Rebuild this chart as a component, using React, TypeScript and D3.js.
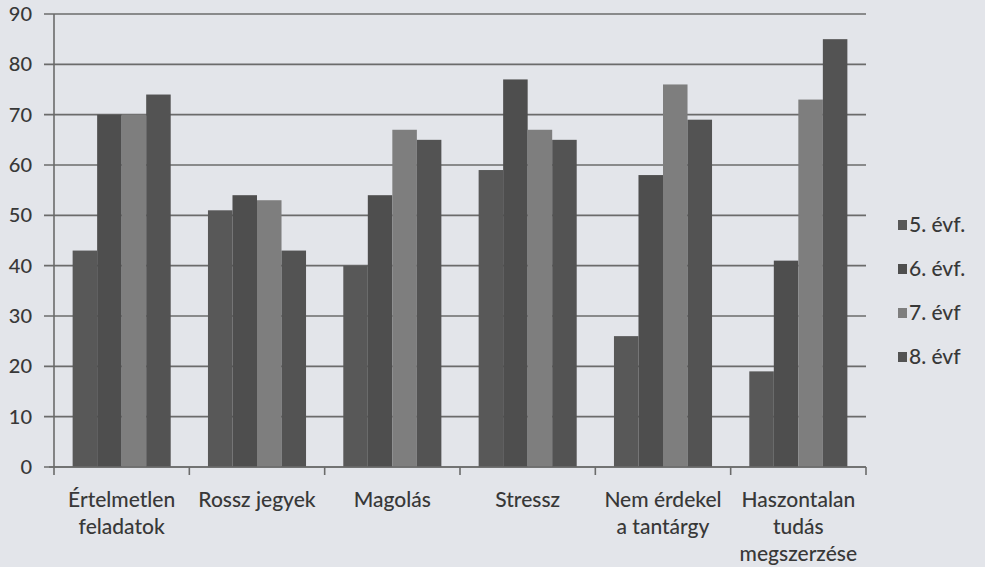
import React from "react";
import * as d3 from "d3";

const categories = [
  ["Értelmetlen", "feladatok"],
  ["Rossz jegyek"],
  ["Magolás"],
  ["Stressz"],
  ["Nem érdekel", "a tantárgy"],
  ["Haszontalan", "tudás", "megszerzése"],
];
const seriesNames = ["5. évf.", "6. évf.", "7. évf", "8. évf"];
const evf5 = [43, 51, 40, 59, 26, 19];
const evf6 = [70, 54, 54, 77, 58, 41];
const evf7 = [70, 53, 67, 67, 76, 73];
const evf8 = [74, 43, 65, 65, 69, 85];
const yTicks = [0, 10, 20, 30, 40, 50, 60, 70, 80, 90];
const colors = ["#585858", "#4e4e4e", "#7e7e7e", "#535353"];

const W = 985;
const H = 567;
const left = 54;
const right = 866;
const top = 14;
const bottom = 467;
const font = "Lato, 'Open Sans', sans-serif";
const textColor = "#383838";

export default function App() {
  const series = [evf5, evf6, evf7, evf8];
  const keys = categories.map((c) => c.join(" "));
  const x = d3.scaleBand<string>().domain(keys).range([left, right]).paddingInner(0).paddingOuter(0);
  const inner = d3
    .scaleBand<string>()
    .domain(seriesNames)
    .range([0, x.bandwidth()])
    .paddingInner(0)
    .paddingOuter(0.76);
  const y = d3.scaleLinear().domain([0, 90]).range([bottom, top]);

  return (
    <svg width={W} height={H} style={{ position: "absolute", left: 0, top: 0, background: "#e3e5ea" }}>
      <rect x={0} y={0} width={W} height={H} fill="#e3e5ea" />
      {yTicks.map((t) => (
        <g key={t}>
          <line x1={44} x2={right} y1={y(t)} y2={y(t)} stroke="#6b6b6b" strokeWidth={1.6} />
          <text x={32} y={y(t)} dy="0.35em" textAnchor="end" fontFamily={font} fontSize={20} fontWeight={500} fill={textColor}>
            {t}
          </text>
        </g>
      ))}
      {series.map((vals, si) =>
        vals.map((v, ci) => (
          <rect
            key={si + "-" + ci}
            x={(x(keys[ci]) as number) + (inner(seriesNames[si]) as number)}
            y={y(v)}
            width={inner.bandwidth()}
            height={y(0) - y(v)}
            fill={colors[si]}
          />
        ))
      )}
      <line x1={left} x2={left} y1={top} y2={bottom + 8} stroke="#6b6b6b" strokeWidth={1.6} />
      <line x1={left - 5} x2={right} y1={bottom} y2={bottom} stroke="#6b6b6b" strokeWidth={1.6} />
      {keys.map((k, i) => (
        <line
          key={"t" + i}
          x1={(x(k) as number) + x.bandwidth()}
          x2={(x(k) as number) + x.bandwidth()}
          y1={bottom}
          y2={bottom + 8}
          stroke="#6b6b6b"
          strokeWidth={1.6}
        />
      ))}
      {categories.map((lines, i) => (
        <text
          key={"c" + i}
          x={(x(keys[i]) as number) + x.bandwidth() / 2}
          y={500}
          textAnchor="middle"
          fontFamily={font}
          fontSize={21}
          fontWeight={500}
          fill={textColor}
        >
          {lines.map((l, j) => (
            <tspan key={j} x={(x(keys[i]) as number) + x.bandwidth() / 2} dy={j === 0 ? "0.35em" : 27}>
              {l}
            </tspan>
          ))}
        </text>
      ))}
      {seriesNames.map((s, i) => (
        <g key={"l" + i} transform={`translate(898, ${225 + i * 44})`}>
          <rect x={0} y={-5} width={9} height={10} fill={colors[i]} />
          <text x={11} y={0} dy="0.35em" fontFamily={font} fontSize={21} fontWeight={500} fill={textColor}>
            {s}
          </text>
        </g>
      ))}
    </svg>
  );
}
